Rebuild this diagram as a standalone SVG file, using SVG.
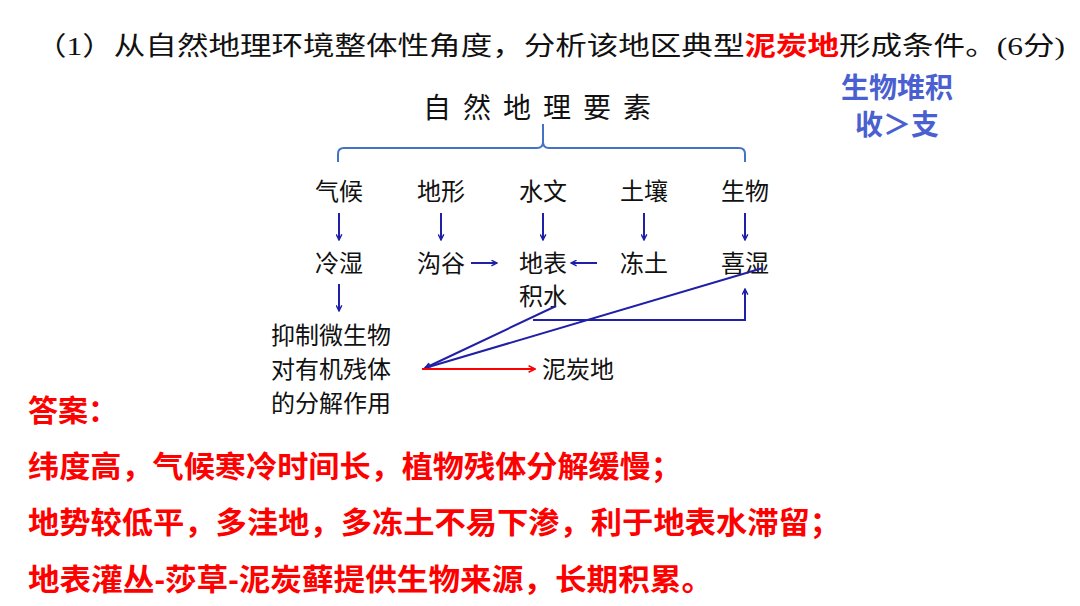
<svg xmlns="http://www.w3.org/2000/svg" width="1080" height="606" viewBox="0 0 1080 606">
<style>
text{font-family:"Liberation Sans","Noto Sans CJK SC",sans-serif;fill:#111;}
.n{font-size:24px;text-anchor:middle;dominant-baseline:central;}
.l{font-size:24px;dominant-baseline:central;}
.ans{font-size:30px;font-weight:bold;fill:#f00;dominant-baseline:central;}
.b{stroke:#1f1fa8;stroke-width:2;fill:none;}
</style>
<defs>
<marker id="a" viewBox="0 0 10 10" refX="9" refY="5" markerWidth="7" markerHeight="7" orient="auto-start-reverse" markerUnits="userSpaceOnUse"><path d="M1,1 L9,5 L1,9" fill="none" stroke="#1f1fa8" stroke-width="2"/></marker>
<marker id="ar" viewBox="0 0 10 10" refX="9" refY="5" markerWidth="8" markerHeight="8" orient="auto" markerUnits="userSpaceOnUse"><path d="M1,1 L9,5 L1,9" fill="none" stroke="#f00" stroke-width="2"/></marker>
</defs>
<rect width="1080" height="606" fill="#fff"/>
<text x="35" y="46" font-size="26" dominant-baseline="central" textLength="1030" lengthAdjust="spacingAndGlyphs" style="font-family:'Liberation Serif','Noto Sans CJK SC',serif">（1）从自然地理环境整体性角度，分析该地区典型<tspan fill="#f00" font-weight="bold">泥炭地</tspan>形成条件。(6分)</text>
<g id="bio"><text x="897" y="88" font-size="28" font-weight="bold" text-anchor="middle" dominant-baseline="central" style="fill:#4a5fd0">生物堆积</text><text x="897" y="125" font-size="28" font-weight="bold" text-anchor="middle" dominant-baseline="central" style="fill:#4a5fd0">收＞支</text></g>
<g id="root"><text x="543" y="108" font-size="28" text-anchor="middle" dominant-baseline="central" letter-spacing="12">自然地理要素</text></g>
<g id="brace"><path d="M338,162 V154 Q338,148 344,148 H537 Q543,148 543,142 V124 M543,142 Q543,148 549,148 H739 Q745,148 745,154 V162" fill="none" stroke="#4472c4" stroke-width="2"/></g>
<g id="n1"><text class="n" x="339" y="191">气候</text></g>
<g id="n2"><text class="n" x="441" y="191">地形</text></g>
<g id="n3"><text class="n" x="543" y="191">水文</text></g>
<g id="n4"><text class="n" x="644" y="191">土壤</text></g>
<g id="n5"><text class="n" x="745" y="191">生物</text></g>
<g id="m1"><text class="n" x="339" y="263">冷湿</text></g>
<g id="m2"><text class="n" x="441" y="263">沟谷</text></g>
<g id="m3"><text class="n" x="543" y="263">地表</text><text class="n" x="543" y="296">积水</text></g>
<g id="m4"><text class="n" x="644" y="263">冻土</text></g>
<g id="m5"><text class="n" x="745" y="263">喜湿</text></g>
<g id="inh"><text class="l" x="271" y="335">抑制微生物</text><text class="l" x="271" y="369">对有机残体</text><text class="l" x="271" y="403">的分解作用</text></g>
<g id="peat"><text class="l" x="542" y="369">泥炭地</text></g>
<g id="connectors">
<line class="b" x1="339" y1="213" x2="339" y2="240" marker-end="url(#a)"/>
<line class="b" x1="441" y1="213" x2="441" y2="240" marker-end="url(#a)"/>
<line class="b" x1="543" y1="213" x2="543" y2="240" marker-end="url(#a)"/>
<line class="b" x1="644" y1="213" x2="644" y2="240" marker-end="url(#a)"/>
<line class="b" x1="745" y1="213" x2="745" y2="240" marker-end="url(#a)"/>
<line class="b" x1="339" y1="284" x2="339" y2="311" marker-end="url(#a)"/>
<line class="b" x1="471" y1="263" x2="497" y2="263" marker-end="url(#a)"/>
<line class="b" x1="597" y1="263" x2="571" y2="263" marker-end="url(#a)"/>
<path class="b" d="M533,320 H745 V289" marker-end="url(#a)"/>
<line class="b" x1="763" y1="268" x2="425" y2="368" marker-end="url(#a)"/>
<line class="b" x1="556" y1="306" x2="425" y2="368" marker-end="url(#a)"/>
<line x1="422" y1="369" x2="535" y2="369" stroke="#f00" stroke-width="2" marker-end="url(#ar)"/>
</g>
<g id="answer">
<text class="ans" x="28" y="410">答案：</text>
<text class="ans" x="28" y="466" textLength="654" lengthAdjust="spacingAndGlyphs">纬度高，气候寒冷时间长，植物残体分解缓慢；</text>
<text class="ans" x="28" y="522" textLength="813" lengthAdjust="spacingAndGlyphs">地势较低平，多洼地，多冻土不易下渗，利于地表水滞留；</text>
<text class="ans" x="28" y="579" textLength="685" lengthAdjust="spacingAndGlyphs">地表灌丛-莎草-泥炭藓提供生物来源，长期积累。</text>
</g>
</svg>
